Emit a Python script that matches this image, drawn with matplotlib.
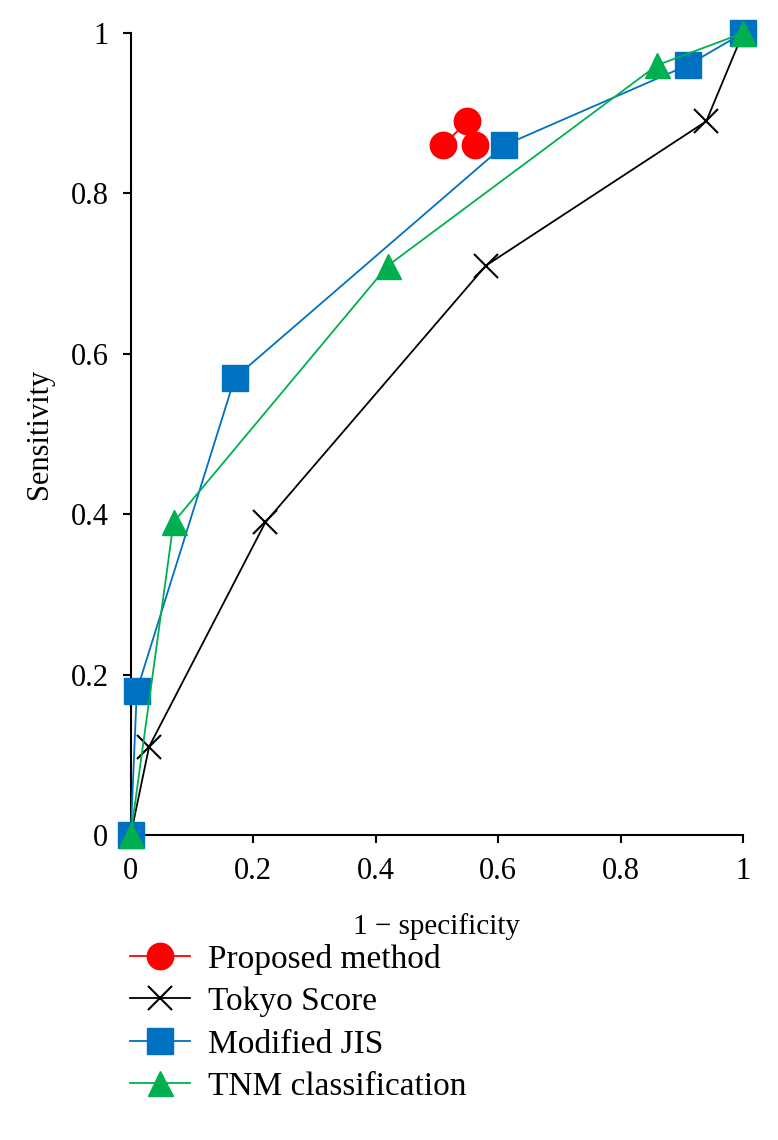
import matplotlib
matplotlib.use('Agg')
import matplotlib.pyplot as plt

plt.rcParams['font.family'] = ['Liberation Serif', 'DejaVu Serif']

# ROC points
proposed_x = [0.51, 0.55, 0.563]
proposed_y = [0.86, 0.89, 0.86]
tokyo_x = [0, 0.03, 0.22, 0.58, 0.94, 1]
tokyo_y = [0, 0.11, 0.39, 0.71, 0.89, 1]
jis_x = [0, 0.01, 0.17, 0.61, 0.91, 1]
jis_y = [0, 0.18, 0.57, 0.86, 0.96, 1]
tnm_x = [0, 0.07, 0.42, 0.86, 1]
tnm_y = [0, 0.39, 0.71, 0.96, 1]
ticks = [0, 0.2, 0.4, 0.6, 0.8, 1]
tick_labels = ['0', '0.2', '0.4', '0.6', '0.8', '1']

fig = plt.figure(figsize=(7.78, 11.40), dpi=100)
ax = fig.add_axes([0.168, 0.2675, 0.787, 0.7035])

ax.plot(proposed_x, proposed_y, color='#FF0000', marker='o', markersize=19,
        lw=1.3, label='Proposed method', clip_on=False, zorder=5)
ax.plot(tokyo_x, tokyo_y, color='black', marker='x', markersize=17,
        markeredgewidth=1.5, lw=1.3, label='Tokyo Score', clip_on=False, zorder=3)
ax.plot(jis_x, jis_y, color='#0070C0', marker='s', markersize=18.5,
        lw=1.3, label='Modified JIS', clip_on=False, zorder=3)
ax.plot(tnm_x, tnm_y, color='#00B050', marker='^', markersize=18,
        lw=1.3, label='TNM classification', clip_on=False, zorder=4)

ax.set_xlim(0, 1)
ax.set_ylim(0, 1)
ax.set_xticks(ticks)
ax.set_xticklabels(tick_labels)
ax.set_yticks(ticks)
ax.set_yticklabels(tick_labels)
ax.spines['top'].set_visible(False)
ax.spines['right'].set_visible(False)
ax.spines['left'].set_linewidth(1.5)
ax.spines['bottom'].set_linewidth(1.5)
ax.tick_params(direction='out', length=6, width=1.5, labelsize=22, pad=10)

ax.set_xlabel('1 \u2212 specificity', fontsize=21, labelpad=19)
ax.set_ylabel('Sensitivity', fontsize=22, labelpad=12)

fig.legend(loc='upper left', bbox_to_anchor=(0.150, 0.184), frameon=False,
           fontsize=24, handlelength=1.8, labelspacing=0.36, handletextpad=0.55,
           borderaxespad=0)

fig.savefig('out.png', dpi=100)
